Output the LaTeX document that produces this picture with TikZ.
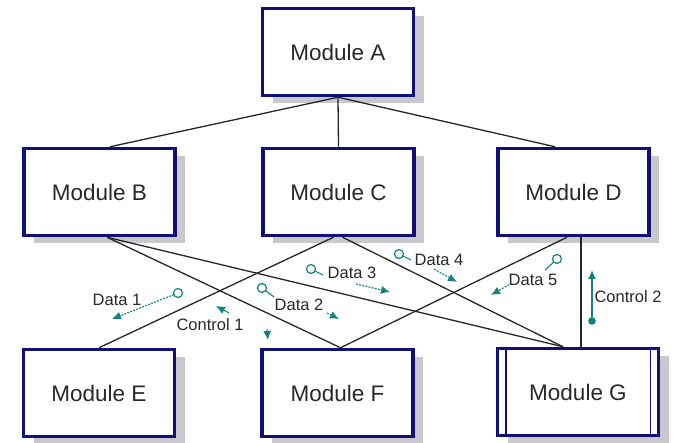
\documentclass[tikz,border=0pt]{standalone}
\usepackage{fontspec}
\setmainfont{Liberation Sans}
\usetikzlibrary{arrows.meta,shadows,calc}
\definecolor{boxblue}{RGB}{16,16,120}
\definecolor{shadowgray}{RGB}{200,200,205}
\definecolor{tealc}{RGB}{20,128,128}
\definecolor{txt}{RGB}{40,40,40}
\tikzset{
  module/.style={draw=boxblue, line width=3.5pt, fill=white, rectangle,
    minimum width=151pt, minimum height=87pt, inner sep=0pt,
    text=txt, font=\fontsize{22.5}{26}\selectfont,
    general shadow={fill=shadowgray, shadow xshift=10pt, shadow yshift=-8pt}},
  link/.style={draw=black!85, line width=1.3pt},
  lbl/.style={text=txt, font=\fontsize{16.5}{19}\selectfont, inner sep=1pt},
  flow/.style={draw=tealc, line width=1.1pt, dash pattern=on 2pt off 1.2pt},
  tip/.style={-{Latex[length=9pt,width=8pt,fill=tealc]}},
  ring/.style={draw=tealc, line width=1.2pt},
  stem/.style={draw=tealc, line width=1.1pt, shorten <=4.5pt},
}
\begin{document}
\begin{tikzpicture}[x=1pt,y=-1pt]
\useasboundingbox (0,0) rectangle (677,443);
\node[module] (A) at (338,52) {Module A};
\node[module] (B) at (99.5,192) {Module B};
\node[module] (C) at (338.5,192) {Module C};
\node[module] (D) at (573.5,192) {Module D};
\node[module] (E) at (99,393) {Module E};
\node[module] (F) at (337.5,393) {Module F};
\node[module, minimum width=161pt] (G) at (578,392) {Module G};
\draw[boxblue, line width=1.5pt] ([xshift=10pt]G.north west) -- ([xshift=10pt]G.south west);
\draw[boxblue, line width=1.5pt] ([xshift=-10pt]G.north east) -- ([xshift=-10pt]G.south east);

% hierarchy links
\draw[link] (A.south) -- ([xshift=10.5pt]B.north);
\draw[link] (A.south) -- (C.north);
\draw[link] (A.south) -- ([xshift=-18.5pt]D.north);
% cross links
\draw[link] ([xshift=7.5pt]B.south) -- ([xshift=3pt]F.north);
\draw[link] ([xshift=7.5pt]B.south) -- ([xshift=-15pt]G.north);
\draw[link] ([xshift=-5pt]C.south) -- (E.north);
\draw[link] ([xshift=4pt]C.south) -- ([xshift=-15pt]G.north);
\draw[link] ([xshift=-6.5pt]D.south) -- ([xshift=3pt]F.north);
\draw[link] ([xshift=7.5pt]D.south) -- ([xshift=3pt]G.north);

% labels
\node[lbl] (d1) at (117,300) {Data 1};
\node[lbl] (c1) at (210,325) {Control 1};
\node[lbl] (d2) at (299,305) {Data 2};
\node[lbl] (d3) at (352,273) {Data 3};
\node[lbl] (d4) at (439,260) {Data 4};
\node[lbl] (d5) at (533,280) {Data 5};
\node[lbl] (c2) at (628,297) {Control 2};

% data 1
\coordinate (d1s) at (178,293);
\coordinate (d1e) at (112,319);
\draw[ring] (d1s) circle (4.5pt);
\draw[flow, shorten <=4.5pt, tip] (d1s) -- (d1e);
% control 1
\coordinate (c1a) at (229,313);
\coordinate (c1b) at (216,306);
\draw[draw=tealc, line width=1pt, tip] (c1a) -- (c1b);
\coordinate (c1c) at (267,329);
\coordinate (c1d) at (268,340);
\draw[draw=tealc, line width=1pt, tip] (c1c) -- (c1d);
% data 2
\coordinate (d2s) at (262,288);
\coordinate (d2m) at (274,297);
\draw[ring] (d2s) circle (4.5pt);
\draw[stem] (d2s) -- (d2m);
\coordinate (d2a) at (327,313);
\coordinate (d2b) at (339,319);
\draw[flow, tip] (d2a) -- (d2b);
% data 3
\coordinate (d3s) at (311,269);
\coordinate (d3m) at (323,275);
\draw[ring] (d3s) circle (4.5pt);
\draw[stem] (d3s) -- (d3m);
\coordinate (d3a) at (356,284);
\coordinate (d3b) at (390,292);
\draw[flow, tip] (d3a) -- (d3b);
% data 4
\coordinate (d4s) at (399,254);
\coordinate (d4m) at (411,260);
\draw[ring] (d4s) circle (4.5pt);
\draw[stem] (d4s) -- (d4m);
\coordinate (d4a) at (434,269);
\coordinate (d4b) at (457,282);
\draw[flow, tip] (d4a) -- (d4b);
% data 5
\coordinate (d5s) at (557,259);
\coordinate (d5m) at (545,270);
\draw[ring] (d5s) circle (4.5pt);
\draw[stem] (d5s) -- (d5m);
\coordinate (d5a) at (512,283);
\coordinate (d5b) at (491,295);
\draw[flow, tip] (d5a) -- (d5b);
% control 2
\coordinate (c2s) at (592,321);
\coordinate (c2e) at (592,270);
\fill[tealc] (c2s) circle (3.8pt);
\draw[draw=tealc, line width=1.3pt, tip] (c2s) -- (c2e);
\end{tikzpicture}
\end{document}
